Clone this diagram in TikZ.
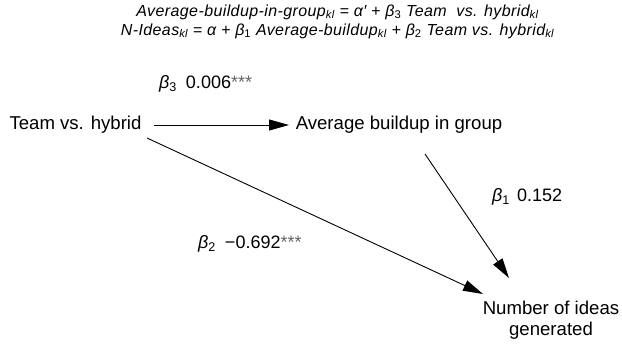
\documentclass[tikz,border=0pt]{standalone}
\usepackage{fontspec}
\setmainfont{Liberation Sans}
\newfontfamily\eqfont[LetterSpace=2.5]{Liberation Sans}
\usetikzlibrary{arrows.meta}
\tikzset{
  lbl/.style={inner sep=0pt, font=\fontsize{18.6}{20.5}\selectfont},
  coef/.style={inner sep=0pt, anchor=west, font=\fontsize{18}{20}\selectfont},
  eq/.style={inner sep=0pt, font=\eqfont\fontsize{16}{18}\selectfont\itshape},
  arr/.style={line width=0.9pt, -{Triangle[length=20pt,width=11pt]}}
}
\newcommand{\stars}{\textcolor{black!60}{***}}
\begin{document}
\begin{tikzpicture}[x=1pt,y=-1pt]
\useasboundingbox (0,0) rectangle (622,345);
\node[eq] (eq1) at (337.5,12) {Average-buildup-in-group\textsubscript{\itshape kl} = α′ + β\textsubscript{\upshape 3} Team \ vs. hybrid\textsubscript{\itshape kl}};
\node[eq] (eq2) at (337.5,31) {N-Ideas\textsubscript{\itshape kl} = α + β\textsubscript{\upshape 1} Average-buildup\textsubscript{\itshape kl} + β\textsubscript{\upshape 2} Team vs. hybrid\textsubscript{\itshape kl}};
\node[lbl] (team) at (75.5,125) {Team vs. hybrid};
\node[lbl] (avg) at (399,125) {Average buildup in group};
\node[lbl, align=center] (num) at (551,320) {Number of ideas\\generated};
\coordinate (a1s) at (154,125);
\coordinate (a1e) at (289,125);
\coordinate (a2s) at (425,154);
\coordinate (a2e) at (509,278);
\coordinate (a3s) at (147,138);
\coordinate (a3e) at (483,294);
\draw[arr] (a1s) -- (a1e);
\draw[arr] (a2s) -- (a2e);
\draw[arr] (a3s) -- (a3e);
\node[coef] (b3) at (159,84) {\textit{β}\textsubscript{3}\hspace{0.5em}0.006\stars};
\node[coef] (b1) at (492,197) {\textit{β}\textsubscript{1}\hspace{0.4em}0.152};
\node[coef] (b2) at (198,244) {\textit{β}\textsubscript{2}\hspace{0.5em}−0.692\stars};
\end{tikzpicture}
\end{document}
